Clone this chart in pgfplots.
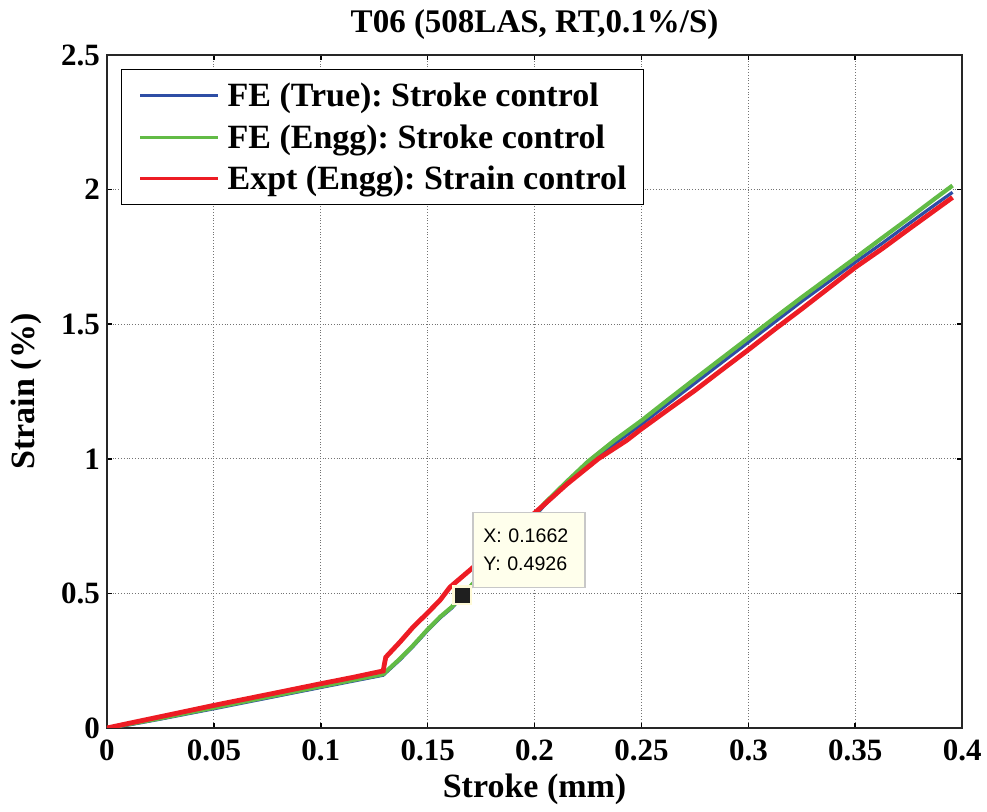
\documentclass[border=0pt]{standalone}
\usepackage{fontspec}
\setmainfont{Liberation Serif}
\newfontfamily\tipfont{Liberation Sans}
\usepackage{pgfplots}
\pgfplotsset{compat=1.18}
\definecolor{feblue}{RGB}{46,78,165}
\definecolor{fegreen}{RGB}{98,187,70}
\definecolor{exred}{RGB}{237,28,36}
\definecolor{tipfill}{RGB}{255,255,236}
\definecolor{tipedge}{RGB}{200,200,200}
\definecolor{markedge}{RGB}{255,250,215}
\frenchspacing
\begin{document}
\begin{tikzpicture}
\begin{axis}[
  scale only axis, width=427.6pt, height=336.5pt,
  xmin=0, xmax=0.4, ymin=0, ymax=2.5,
  xtick={0,0.05,0.1,0.15,0.2,0.25,0.3,0.35,0.4},
  xticklabels={0,0.05,0.1,0.15,0.2,0.25,0.3,0.35,0.4},
  ytick={0,0.5,1,1.5,2,2.5},
  yticklabels={0,0.5,1,1.5,2,2.5},
  tick align=inside, major tick length=2.5pt,
  grid=major, grid style={densely dotted, black!55, line width=0.5pt},
  axis line style={line width=1pt, black!85},
  every tick/.style={black, line width=0.8pt},
  tick label style={font=\fontsize{15.5}{18}\selectfont\bfseries},
  xticklabel style={yshift=-2.5pt},
  title={T06 (508LAS, RT,0.1\%/S)},
  title style={at={(axis description cs:0.5,1.015)}, anchor=base, font=\fontsize{16.5}{20}\selectfont\bfseries},
  xlabel={Stroke (mm)},
  xlabel style={at={(axis description cs:0.5,-0.1033)}, anchor=base, font=\fontsize{17}{20}\selectfont\bfseries},
  ylabel={Strain (\%)},
  ylabel style={at={(axis description cs:-0.0842,0.5)}, anchor=base, font=\fontsize{17}{20}\selectfont\bfseries},
  legend cell align=left,
  legend image code/.code={\draw[#1, line width=1.5pt] (0pt,0pt) -- (39pt,0pt);},
  legend style={at={(axis description cs:0.01637,0.9792)}, anchor=north west,
    draw=black, line width=0.6pt, fill=white,
    font=\fontsize{17}{20}\selectfont\bfseries,
    inner xsep=8.5pt, inner ysep=6pt, row sep=6.8pt,
    nodes={inner sep=0pt, text height=12.5pt, text depth=1.5pt},
    /tikz/every odd column/.append style={column sep=4pt}},
]
\addplot[feblue, line width=1.6pt] coordinates {
(0,0) (0.01,0.011) (0.025,0.033) (0.05,0.0715) (0.075,0.111) (0.1,0.1505)
(0.115,0.174) (0.1292,0.196) (0.137,0.253) (0.1432,0.303) (0.1495,0.358)
(0.1557,0.408) (0.1612,0.445) (0.1662,0.4886) (0.175,0.565) (0.185,0.650)
(0.195,0.740) (0.2047,0.828) (0.215,0.905) (0.225,0.980) (0.2376,1.056)
(0.25,1.128) (0.2625,1.205) (0.275,1.281) (0.2875,1.357) (0.3,1.433)
(0.3125,1.509) (0.325,1.585) (0.3375,1.657) (0.35,1.730) (0.3625,1.800)
(0.375,1.873) (0.3875,1.945) (0.3955,1.990)
};
\addlegendentry{FE (True): Stroke control}
\addplot[fegreen, line width=2.1pt] coordinates {
(0,0) (0.01,0.014) (0.025,0.036) (0.05,0.0754) (0.075,0.115) (0.1,0.1545)
(0.115,0.178) (0.1292,0.200) (0.137,0.257) (0.1432,0.307) (0.1495,0.362)
(0.1557,0.412) (0.1612,0.449) (0.1662,0.4926) (0.175,0.570) (0.185,0.655)
(0.195,0.745) (0.2047,0.835) (0.215,0.915) (0.225,0.990) (0.2376,1.070)
(0.25,1.142) (0.2625,1.220) (0.275,1.297) (0.2875,1.373) (0.3,1.449)
(0.3125,1.525) (0.325,1.600) (0.3375,1.673) (0.35,1.746) (0.3625,1.820)
(0.375,1.893) (0.3875,1.968) (0.3955,2.015)
};
\addlegendentry{FE (Engg): Stroke control}
\addplot[exred, line width=2.4pt] coordinates {
(0,0) (0.01,0.017) (0.025,0.042) (0.05,0.084) (0.075,0.124) (0.1,0.1645)
(0.115,0.188) (0.1292,0.212) (0.1297,0.235) (0.1304,0.263) (0.137,0.319)
(0.1432,0.375) (0.1495,0.424) (0.1557,0.474) (0.1604,0.523) (0.1705,0.5915)
(0.18,0.658) (0.19,0.728) (0.204,0.8266) (0.215,0.905) (0.2298,1.000)
(0.243,1.068) (0.25,1.111) (0.2625,1.183) (0.275,1.254) (0.2875,1.330)
(0.3,1.405) (0.3125,1.482) (0.325,1.557) (0.3375,1.634) (0.35,1.711)
(0.3625,1.780) (0.375,1.853) (0.3875,1.925) (0.3955,1.971)
};
\addlegendentry{Expt (Engg): Strain control}
\addplot[forget plot, only marks, mark=square*, mark size=4.3pt,
  mark options={fill=black!88, draw=markedge, line width=1.4pt}]
  coordinates {(0.1662,0.4926)};
\node[anchor=south west, xshift=5pt, yshift=3.8pt, draw=tipedge, fill=tipfill,
  line width=0.6pt, font=\tipfont\fontsize{9.8}{13.8}\selectfont, align=left,
  text width=45.6pt, inner xsep=5.2pt, inner ysep=8.3pt]
  at (axis cs:0.1662,0.4926) {X: 0.1662\\Y: 0.4926};
\end{axis}
\pgfresetboundingbox
\path (-53.5pt,-42pt) rectangle (440pt,364pt);
\end{tikzpicture}
\end{document}
